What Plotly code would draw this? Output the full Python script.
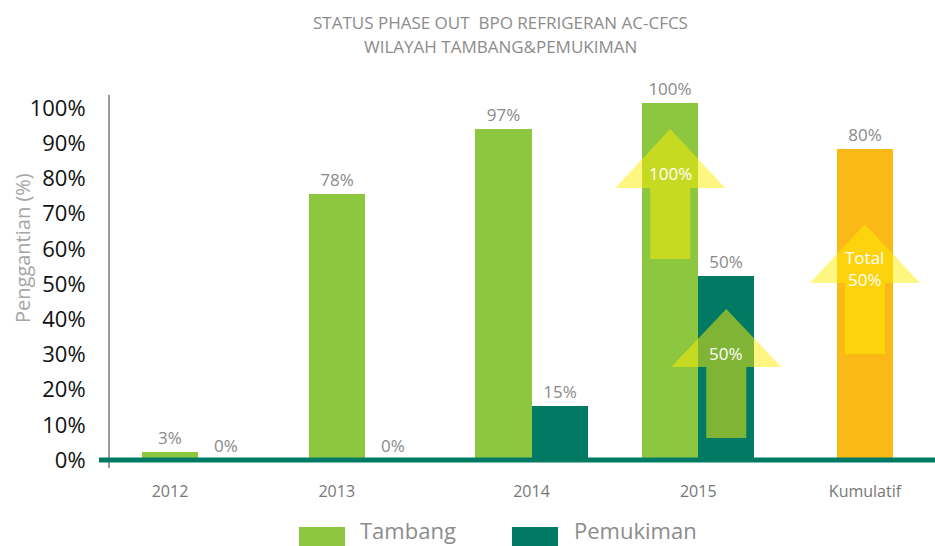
import plotly.graph_objects as go

# ---------------- data ----------------
categories = ["2012", "2013", "2014", "2015", "Kumulatif"]
cat_pos = [0, 1, 2, 3, 4]

tambang_height = [2.3, 75.6, 94.0, 101.4]
tambang_label = ["3%", "78%", "97%", "100%"]

pemukiman_height = [0, 0, 15.3, 52.3]
pemukiman_label = ["0%", "0%", "15%", "50%"]

kumulatif_height = [88.4]
kumulatif_label = ["80%"]

y_ticks = [0, 10, 20, 30, 40, 50, 60, 70, 80, 90, 100]
y_ticktext = [f"{v}%" for v in y_ticks]

# arrows (annotations): category, side (-1 tambang, +1 pemukiman, 0 single), tip, neck, tail (in %)
arrow_cat = [3, 3, 4]
arrow_side = [-1, 1, 0]
arrow_tip = [94.0, 42.9, 67.0]
arrow_neck = [77.3, 26.4, 50.3]
arrow_tail = [57.1, 6.25, 30.1]
arrow_text = ["100%", "50%", "Total<br>50%"]

# ---------------- style ----------------
W, H = 935, 546
ML, MR, MT, MB = 110, 0, 95, 78
PW, PH = W - ML - MR, H - MT - MB
FONT = "Open Sans"
C_TAMBANG = "#8dc63f"
C_PEMUKIMAN = "#007a63"
C_KUM = "#fbb917"
C_ARROW = "rgba(255,238,5,0.5)"
C_LABEL = "#8a8a8a"

BW = 0.336            # bar width in category units
X_RANGE = [-0.528, 4.42]
Y_RANGE = [-2.27, 103.69]


def px_x(p):
    return (p - ML) / PW


def px_y(p):
    return (H - MB - p) / PH


fig = go.Figure()

fig.add_trace(go.Bar(
    x=cat_pos[:4], y=tambang_height, width=BW, offset=-BW,
    marker=dict(color=C_TAMBANG, line=dict(width=0)),
    text=tambang_label, textposition="outside", cliponaxis=False,
    constraintext="none",
    textfont=dict(family=FONT, size=17, color=C_LABEL),
    name="Tambang", showlegend=False))

fig.add_trace(go.Bar(
    x=cat_pos[:4], y=pemukiman_height, width=BW, offset=0,
    marker=dict(color=C_PEMUKIMAN, line=dict(width=0)),
    text=pemukiman_label, textposition="outside", cliponaxis=False,
    constraintext="none",
    textfont=dict(family=FONT, size=17, color=C_LABEL),
    name="Pemukiman", showlegend=False))

fig.add_trace(go.Bar(
    x=cat_pos[4:], y=kumulatif_height, width=BW, offset=-BW / 2,
    marker=dict(color=C_KUM, line=dict(width=0)),
    text=kumulatif_label, textposition="outside", cliponaxis=False,
    constraintext="none",
    textfont=dict(family=FONT, size=17, color=C_LABEL),
    name="Kumulatif", showlegend=False))

shapes = []
annotations = []

# baseline
shapes.append(dict(type="line", xref="paper", yref="y", x0=px_x(99), x1=1, y0=0, y1=0,
                   line=dict(color=C_PEMUKIMAN, width=5), layer="above"))

# arrows
HEAD = 0.33
SHAFT = 0.12
for c, s, tip, neck, tail, t in zip(arrow_cat, arrow_side, arrow_tip, arrow_neck, arrow_tail, arrow_text):
    cx = c + s * BW / 2
    path = (f"M {cx - SHAFT} {tail} L {cx + SHAFT} {tail} L {cx + SHAFT} {neck} "
            f"L {cx + HEAD} {neck} L {cx} {tip} L {cx - HEAD} {neck} L {cx - SHAFT} {neck} Z")
    shapes.append(dict(type="path", xref="x", yref="y", path=path,
                       fillcolor=C_ARROW, line=dict(width=0), layer="above"))
    annotations.append(dict(x=cx, y=neck + 4, xref="x", yref="y", text=t, showarrow=False,
                            font=dict(family=FONT, size=17, color="white"),
                            xanchor="center", yanchor="middle"))

# title
annotations.append(dict(x=px_x(500), y=px_y(22), xref="paper", yref="paper",
                        text="STATUS PHASE OUT  BPO REFRIGERAN AC-CFCS", showarrow=False,
                        font=dict(family=FONT, size=17, color="#8c8c8c"),
                        xanchor="center", yanchor="middle"))
annotations.append(dict(x=px_x(500), y=px_y(47), xref="paper", yref="paper",
                        text="WILAYAH TAMBANG&amp;PEMUKIMAN", showarrow=False,
                        font=dict(family=FONT, size=17, color="#8c8c8c"),
                        xanchor="center", yanchor="middle"))

# y-axis title
annotations.append(dict(x=px_x(22), y=px_y(248), xref="paper", yref="paper",
                        text="Penggantian (%)", showarrow=False, textangle=-90,
                        font=dict(family=FONT, size=20, color="#a6a6a6"),
                        xanchor="center", yanchor="middle"))

# legend (custom, large swatches)
legend_items = [("Tambang", C_TAMBANG, 299, 358), ("Pemukiman", C_PEMUKIMAN, 512, 572)]
for name, col, sx, tx in legend_items:
    shapes.append(dict(type="rect", xref="paper", yref="paper",
                       x0=px_x(sx), x1=px_x(sx + 46), y0=px_y(527), y1=px_y(570),
                       fillcolor=col, line=dict(width=0)))
    annotations.append(dict(x=px_x(tx), y=px_y(530), xref="paper", yref="paper",
                            text=name, showarrow=False,
                            font=dict(family=FONT, size=22, color="#8c8c8c"),
                            xanchor="left", yanchor="middle"))

tick_offsets = [-BW / 2, -BW / 2, 0, 0, 0]
x_tickvals = [p + o for p, o in zip(cat_pos, tick_offsets)]

fig.update_layout(
    width=W, height=H,
    margin=dict(l=ML, r=MR, t=MT, b=MB, pad=0, autoexpand=False),
    paper_bgcolor="white", plot_bgcolor="white",
    barmode="overlay", bargap=0,
    showlegend=False,
    shapes=shapes, annotations=annotations,
    font=dict(family=FONT),
    xaxis=dict(range=X_RANGE, tickvals=x_tickvals, ticktext=categories,
               showgrid=False, zeroline=False, showline=False, ticks="",
               tickfont=dict(family=FONT, size=16, color="#777777"),
               ticklabelstandoff=12, fixedrange=True, automargin=False),
    yaxis=dict(range=Y_RANGE, tickvals=y_ticks, ticktext=y_ticktext,
               showgrid=False, zeroline=False, showline=True,
               linecolor="#9a9a9a", linewidth=2, ticks="",
               tickfont=dict(family=FONT, size=22, color="#111111"),
               ticklabelstandoff=18, fixedrange=True, automargin=False),
)

fig.write_html("out.html", config={"displayModeBar": False},
               post_script="document.body.style.margin='0';")
